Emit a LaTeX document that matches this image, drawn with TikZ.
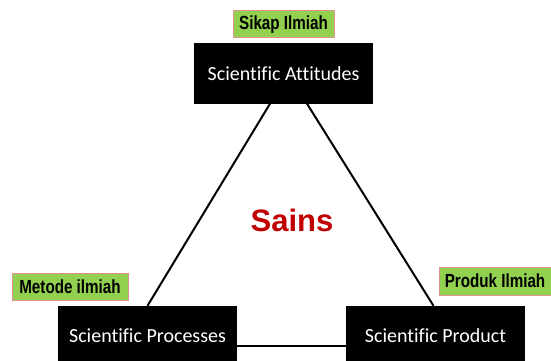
\documentclass[tikz,border=0pt]{standalone}
\usepackage{fontspec}
\setmainfont[Ligatures=NoCommon]{Carlito}
\newfontfamily\tagfont[FakeStretch=0.8]{Liberation Sans}
\newfontfamily\sainsfont{Liberation Sans}
\usetikzlibrary{positioning}
\definecolor{taggreen}{HTML}{92D050}
\definecolor{tagrim}{HTML}{E3918F}
\definecolor{sainsred}{HTML}{C00000}
\tikzset{
  pillar/.style={
    % The shape:
    rectangle,
    % The size:
    minimum width=179pt,minimum height=60pt,inner sep=0pt,
    % The filling:
    fill=black,
    % The text:
    text=white,font=\fontsize{20}{24}\selectfont
  }}
\tikzset{
  tag/.style={
    % The shape:
    rectangle,minimum height=27pt,inner sep=0pt,
    % The rest
    draw=tagrim,line width=1pt,fill=taggreen,
    font=\tagfont\bfseries\fontsize{19}{21}\selectfont}}
\tikzset{
  link/.style={line width=2pt,black}}

\begin{document}
\begin{tikzpicture}[x=1pt,y=-1pt]
	\useasboundingbox (0,0) rectangle (551,361);
	\clip (0,0) rectangle (551,361);
	% The three corners
	\node[pillar] (att) at (283.5,73.5) {Scientific Attitudes};
	\node[pillar] (proc) at (147.5,336) {Scientific Processes};
	\node[pillar] (prod) at (435.5,336) {Scientific Product};
	% Green tags
	\node[tag,minimum width=101pt,above=5pt of att] (sikap) {Sikap Ilmiah};
	\node[tag,minimum width=116pt] (metode) at (70,287) {Metode ilmiah};
	\node[tag,minimum width=112pt,minimum height=28pt] (produk) at (495,281) {Produk Ilmiah};
	% Centre word
	\node[anchor=base,text=sainsred,font=\sainsfont\bfseries\fontsize{31}{36}\selectfont]
		(sains) at (292,231) {Sains};
	% Lines of the triangle
	\draw[link] ([xshift=-13.5pt]att.south) -- (proc.north);
	\draw[link] ([xshift=23.5pt]att.south) -- ([xshift=-2pt]prod.north);
	\draw[link] ([yshift=-10pt]proc.east) -- ([yshift=-10pt]prod.west);
\end{tikzpicture}
\end{document}
